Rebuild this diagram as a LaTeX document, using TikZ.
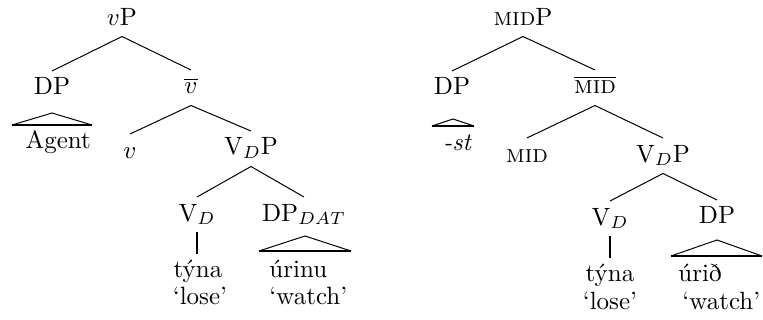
\documentclass[tikz,border=0pt]{standalone}
\usepackage{fontspec}
\begin{document}
\begin{tikzpicture}[x=0.4pt,y=-0.4pt,
  lab/.style={anchor=base, inner xsep=0pt, inner ysep=2.4pt, text height=7pt, text depth=2pt},
  leafl/.style={lab, anchor=base west},
  branch/.style={line width=0.4pt},
  roofside/.style={line width=0.4pt},
  roofbase/.style={line width=0.9pt},
  stem/.style={line width=0.9pt}]
\useasboundingbox (0,0) rectangle (763,320);
% ---------- left tree ----------
\node[lab] (vP) at (122,25) {$v$P};
\node[lab] (DPa) at (52,95) {DP};
\node[lab] (vbar) at (191,94) {$\overline{v}$};
\node[leafl] (agent) at (25,148) {Agent};
\node[lab] (v) at (130,158) {$v$};
\node[lab] (VDPa) at (251,155) {V$_D$P};
\node[lab] (VDa) at (197,221) {V$_D$};
\node[lab] (DPdat) at (304,221) {DP$_{DAT}$};
\node[lab] (tynaa) at (198,278) {týna};
\node[lab] (losea) at (200,305) {‘lose’};
\node[leafl] (urinu) at (269,278) {úrinu};
\node[leafl] (watcha) at (269,305) {‘watch’};
\draw[branch] (vP.south) -- (DPa.north);
\draw[branch] (vP.south) -- (vbar.north);
\draw[branch] (vbar.south) -- (v.north);
\draw[branch] (vbar.south) -- (VDPa.north);
\draw[branch] (VDPa.south) -- (VDa.north);
\draw[branch] (VDPa.south) -- (DPdat.north);
\draw[stem] (VDa.south) -- (VDa.south |- tynaa.north);
\coordinate (r1t) at (52,113);
\coordinate (r1l) at (12,125);
\coordinate (r1r) at (92,125);
\draw[roofside] (r1l) -- (r1t) -- (r1r);
\draw[roofbase] (r1l) -- (r1r);
\coordinate (r2t) at (305,236);
\coordinate (r2l) at (259,251);
\coordinate (r2r) at (351,251);
\draw[roofside] (r2l) -- (r2t) -- (r2r);
\draw[roofbase] (r2l) -- (r2r);
% ---------- right tree ----------
\node[lab] (midP) at (523,25) {\textsc{mid}P};
\node[lab] (DPb) at (452,95) {DP};
\node[lab] (midbar) at (595,94) {$\overline{\mbox{\textsc{mid}}}$};
\node[leafl] (st) at (443,150) {\textit{-st}};
\node[lab] (mid) at (527,162) {\textsc{mid}};
\node[lab] (VDPb) at (663,162) {V$_D$P};
\node[lab] (VDb) at (610,225) {V$_D$};
\node[lab] (DPc) at (717,224) {DP};
\node[lab] (tynab) at (610,282) {týna};
\node[lab] (loseb) at (610,310) {‘lose’};
\node[leafl] (urid) at (678,282) {úrið};
\node[leafl] (watchb) at (682,310) {‘watch’};
\draw[branch] (midP.south) -- (DPb.north);
\draw[branch] (midP.south) -- (midbar.north);
\draw[branch] (midbar.south) -- (mid.north);
\draw[branch] (midbar.south) -- (VDPb.north);
\draw[branch] (VDPb.south) -- (VDb.north);
\draw[branch] (VDPb.south) -- (DPc.north);
\draw[stem] (VDb.south) -- (VDb.south |- tynab.north);
\coordinate (r3t) at (453,119);
\coordinate (r3l) at (432,126);
\coordinate (r3r) at (474,126);
\draw[roofside] (r3l) -- (r3t) -- (r3r);
\draw[roofbase] (r3l) -- (r3r);
\coordinate (r4t) at (717,240);
\coordinate (r4l) at (671,256);
\coordinate (r4r) at (762,256);
\draw[roofside] (r4l) -- (r4t) -- (r4r);
\draw[roofbase] (r4l) -- (r4r);
\end{tikzpicture}
\end{document}
